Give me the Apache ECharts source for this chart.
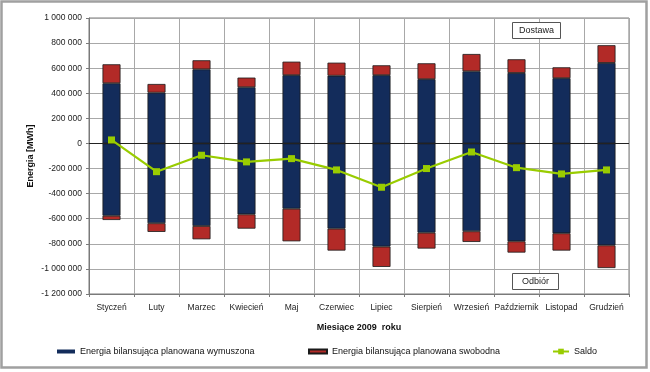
<!DOCTYPE html>
<html>
<head>
<meta charset="utf-8">
<script src="https://cdn.jsdelivr.net/npm/echarts@6/dist/echarts.min.js"></script>
<style>
html,body{margin:0;padding:0;background:#fff;}
#c{width:650px;height:372px;}
</style>
</head>
<body>
<div id="c"></div>
<script>
const months = ['Styczeń','Luty','Marzec','Kwiecień','Maj','Czerwiec','Lipiec','Sierpień','Wrzesień','Październik','Listopad','Grudzień'];
const dostawaWymuszona = [480000,405000,591000,448000,544000,540000,544000,512000,575000,562000,520000,642000];
const dostawaSwobodna  = [151000,69000,72000,77000,108000,104000,79000,127000,138000,109000,87000,141000];
const odbiorWymuszona  = [-576000,-636000,-658000,-565000,-520000,-679000,-822000,-711000,-700000,-780000,-716000,-812000];
const odbiorSwobodna   = [-34000,-69000,-106000,-114000,-260000,-175000,-162000,-127000,-85000,-90000,-138000,-181000];
const saldo            = [28000,-225000,-94000,-147000,-121000,-211000,-349000,-200000,-68000,-193000,-243000,-211000];

const nameWym = 'Energia bilansująca planowana wymuszona';
const nameSwo = 'Energia bilansująca planowana swobodna';
const nameSaldo = 'Saldo';

const FONT = '"Liberation Sans", Arial, sans-serif';
const BLUE = '#132c5b';
const RED = '#b22a27';
const GREEN = '#99cc00';

function fmt(v){
  const s = String(Math.abs(v)).replace(/\B(?=(\d{3})+(?!\d))/g, ' ');
  return (v < 0 ? '-' : '') + s;
}

const chart = echarts.init(document.getElementById('c'), null, {renderer:'canvas'});
const barCommon = {
  type:'bar', stack:'total', barWidth:18,
  itemStyle:{borderColor:'#1a1a1a', borderWidth:0.8}
};
const legendCommon = {
  top:347, padding:0, itemWidth:18, itemHeight:4,
  textStyle:{fontFamily:FONT, fontSize:9, color:'#111'}
};
chart.setOption({
  animation:false,
  textStyle:{fontFamily:FONT},
  grid:{left:89, right:21, top:18, bottom:78, show:true, borderColor:'#7a7a7a', borderWidth:1},
  title:[
    {text:'Dostawa', left:512, top:22, padding:[4,7,4,7], borderColor:'#555', borderWidth:1, backgroundColor:'#fff',
      textStyle:{fontFamily:FONT, fontSize:9, fontWeight:'normal', color:'#222'}},
    {text:'Odbiór', left:512, top:273, padding:[4,10,4,10], borderColor:'#555', borderWidth:1, backgroundColor:'#fff',
      textStyle:{fontFamily:FONT, fontSize:9, fontWeight:'normal', color:'#222'}}
  ],
  legend:[
    Object.assign({}, legendCommon, {left:57, itemStyle:{borderWidth:0}, data:[{name:nameWym, icon:'rect'}]}),
    Object.assign({}, legendCommon, {left:308, data:[{name:nameSwo, icon:'rect'}]}),
    Object.assign({}, legendCommon, {left:552, itemWidth:16, itemHeight:7, data:[{name:nameSaldo}]})
  ],
  xAxis:{
    type:'category', data:months,
    name:'Miesiące 2009  roku', nameLocation:'middle', nameGap:29,
    nameTextStyle:{fontFamily:FONT, fontSize:9, fontWeight:'bold', color:'#111'},
    axisLine:{onZero:false, lineStyle:{color:'#7a7a7a'}},
    axisTick:{show:true, length:3, lineStyle:{color:'#7a7a7a'}},
    axisLabel:{fontFamily:FONT, fontSize:8.5, color:'#222', margin:9, interval:0},
    splitLine:{show:true, lineStyle:{color:'#a8a8a8', width:1}}
  },
  yAxis:{
    type:'value', min:-1200000, max:1000000, interval:200000,
    name:'Energia [MWh]', nameLocation:'middle', nameGap:54, nameMoveOverlap:false,
    nameTextStyle:{fontFamily:FONT, fontSize:9, fontWeight:'bold', color:'#111'},
    axisLine:{show:true, lineStyle:{color:'#7a7a7a'}},
    axisTick:{show:true, length:3, lineStyle:{color:'#7a7a7a'}},
    axisLabel:{fontFamily:FONT, fontSize:8.5, color:'#222', margin:7, formatter:fmt},
    splitLine:{show:true, lineStyle:{color:'#a8a8a8', width:1}}
  },
  series:[
    Object.assign({}, barCommon, {name:nameWym, data:dostawaWymuszona, itemStyle:Object.assign({}, barCommon.itemStyle, {color:BLUE})}),
    Object.assign({}, barCommon, {name:nameSwo, data:dostawaSwobodna, itemStyle:Object.assign({}, barCommon.itemStyle, {color:RED})}),
    Object.assign({}, barCommon, {name:nameWym, data:odbiorWymuszona, itemStyle:Object.assign({}, barCommon.itemStyle, {color:BLUE})}),
    Object.assign({}, barCommon, {name:nameSwo, data:odbiorSwobodna, itemStyle:Object.assign({}, barCommon.itemStyle, {color:RED})}),
    {
      name:nameSaldo, type:'line', data:saldo, z:5,
      symbol:'rect', symbolSize:7,
      lineStyle:{color:GREEN, width:2.2},
      itemStyle:{color:GREEN},
      markLine:{silent:true, symbol:'none', label:{show:false},
        lineStyle:{color:'#222', width:1.2, type:'solid'},
        data:[{yAxis:0}]}
    }
  ],
  graphic:[
    {type:'rect', shape:{x:1.5, y:1.5, width:645, height:366}, style:{fill:'none', stroke:'#a0a0a0', lineWidth:2.5}, silent:true}
  ]
});
</script>
</body>
</html>
